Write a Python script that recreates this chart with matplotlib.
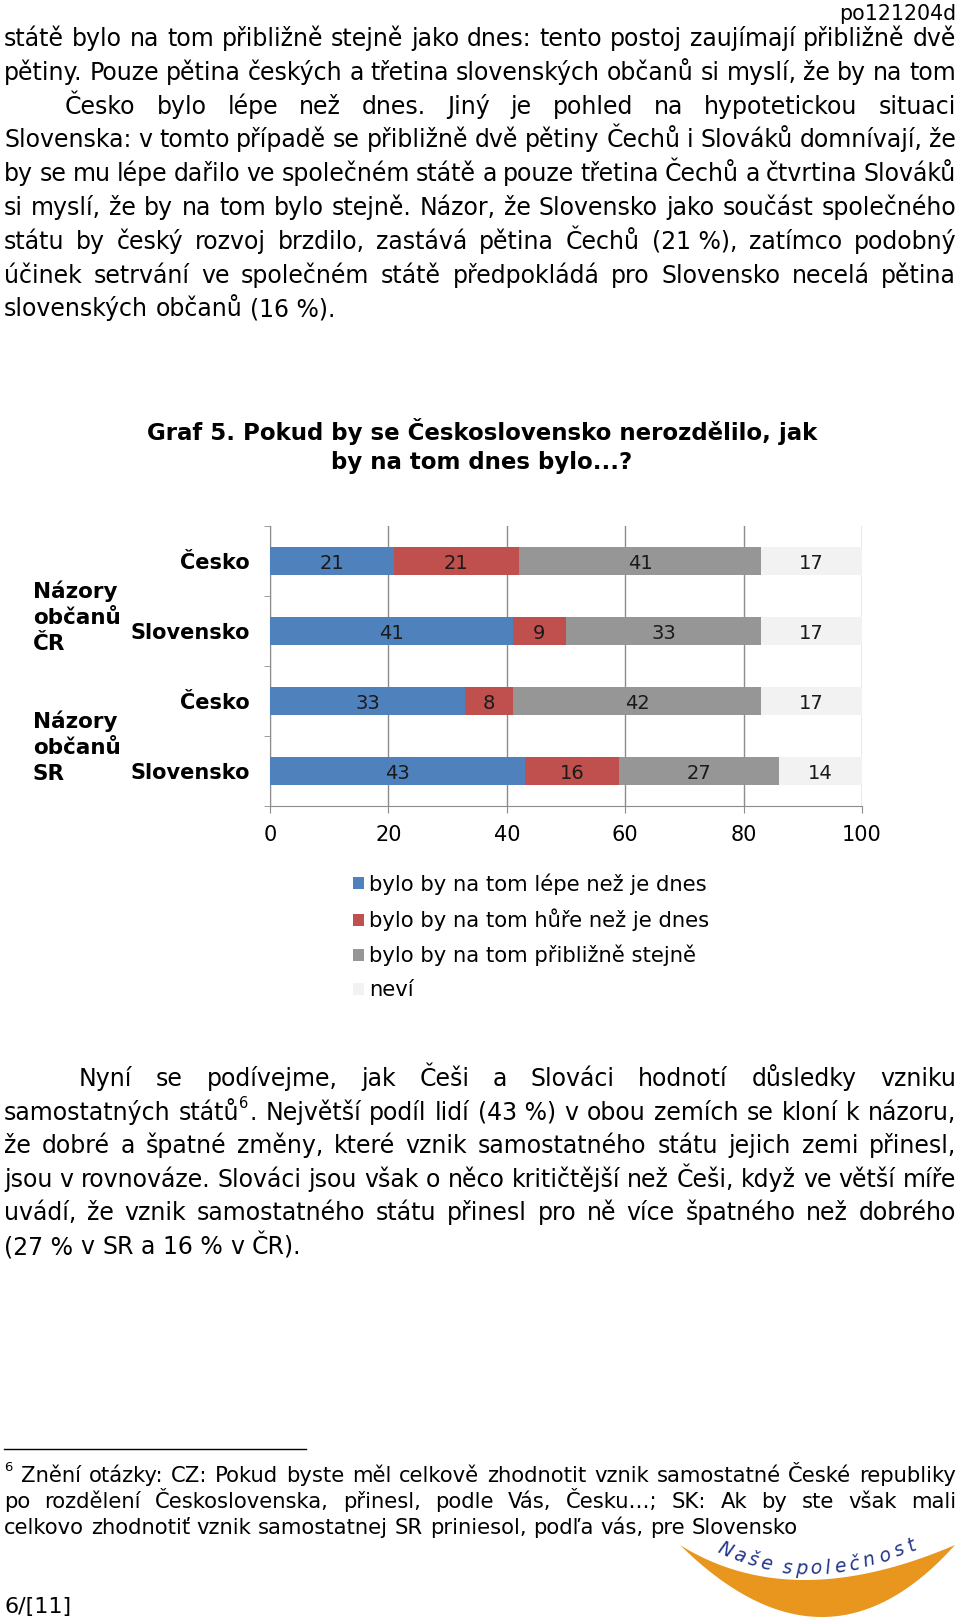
import matplotlib
matplotlib.use('Agg')
import matplotlib.pyplot as plt
from matplotlib.patches import Polygon
import numpy as np

plt.rcParams['font.family'] = ['DejaVu Sans']

W, H, DPI = 960, 1617, 100

# --- chart data ---
rows = ['Česko', 'Slovensko', 'Česko', 'Slovensko']
groups = ['Názory\nobčanů\nČR', 'Názory\nobčanů\nSR']
series = ['bylo by na tom lépe než je dnes',
          'bylo by na tom hůře než je dnes',
          'bylo by na tom přibližně stejně',
          'neví']
lepe = [21, 41, 33, 43]
hure = [21, 9, 8, 16]
stejne = [41, 33, 42, 27]
nevi = [17, 17, 17, 14]
x_ticks = [0, 20, 40, 60, 80, 100]
colors = ['#4F81BD', '#C0504D', '#969696', '#F2F2F2']

title = 'Graf 5. Pokud by se Československo nerozdělilo, jak\nby na tom dnes bylo...?'

# --- page text (justified lines keep the original line breaks, ^ marks a superscript) ---
par1 = [
    'státě bylo na tom přibližně stejně jako dnes: tento postoj zaujímají přibližně dvě',
    'pětiny. Pouze pětina českých a třetina slovenských občanů si myslí, že by na tom',
    'Česko bylo lépe než dnes. Jiný je pohled na hypotetickou situaci',
    'Slovenska: v tomto případě se přibližně dvě pětiny Čechů i Slováků domnívají, že',
    'by se mu lépe dařilo ve společném státě a pouze třetina Čechů a čtvrtina Slováků',
    'si myslí, že by na tom bylo stejně. Názor, že Slovensko jako součást společného',
    'státu by český rozvoj brzdilo, zastává pětina Čechů (21\u00a0%), zatímco podobný',
    'účinek setrvání ve společném státě předpokládá pro Slovensko necelá pětina',
    'slovenských občanů (16\u00a0%).',
]
par2 = [
    'Nyní se podívejme, jak Češi a Slováci hodnotí důsledky vzniku',
    'samostatných států^6^. Největší podíl lidí (43\u00a0%) v obou zemích se kloní k názoru,',
    'že dobré a špatné změny, které vznik samostatného státu jejich zemi přinesl,',
    'jsou v rovnováze. Slováci jsou však o něco kritičtější než Češi, když ve větší míře',
    'uvádí, že vznik samostatného státu přinesl pro ně více špatného než dobrého',
    '(27\u00a0% v SR a 16\u00a0% v ČR).',
]
foot = [
    '^6^ Znění otázky: CZ: Pokud byste měl celkově zhodnotit vznik samostatné České republiky',
    'po rozdělení Československa, přinesl, podle Vás, Česku…; SK: Ak by ste však mali',
    'celkovo zhodnotiť vznik samostatnej SR priniesol, podľa vás, pre Slovensko',
]

fig = plt.figure(figsize=(W / DPI, H / DPI), dpi=DPI)
page = fig.add_axes([0, 0, 1, 1])
page.set_xlim(0, W)
page.set_ylim(H, 0)
page.axis('off')
renderer = fig.canvas.get_renderer()


def text_width(s, **kw):
    t = page.text(0, 0, s, **kw)
    w = t.get_window_extent(renderer).width
    t.remove()
    return w


def word_parts(word, fontsize):
    # split "abc^6^." into pieces (text, size, raise)
    parts = []
    for j, p in enumerate(word.split('^')):
        if p:
            sup = j % 2 == 1
            parts.append((p, fontsize * (0.62 if sup else 1), fontsize * 0.5 if sup else 0))
    return parts


def draw_word(x, y, word, fontsize, draw=True, **kw):
    for p, fs, up in word_parts(word, fontsize):
        w = text_width(p, fontsize=fs, **kw)
        if draw:
            page.text(x, y - up * DPI / 72, p, va='baseline', ha='left', fontsize=fs, **kw)
        x += w + (1 if fs != fontsize else 0)
    return x


def put_line(y, s, x0, x1, fontsize, **kw):
    words = s.split(' ')
    widths = [draw_word(0, 0, w, fontsize, draw=False, **kw) for w in words]
    if x1 is None:
        gap = text_width('a a', fontsize=fontsize, **kw) - text_width('aa', fontsize=fontsize, **kw)
    else:
        gap = max((x1 - x0 - sum(widths)) / (len(words) - 1), 3)
    x = x0
    for w, wd in zip(words, widths):
        draw_word(x, y, w, fontsize, **kw)
        x += wd + gap


page.text(956, 4, 'po121204d', ha='right', va='top', fontsize=14.8)
for i, s in enumerate(par1):
    x0 = 65 if i == 2 else 4
    put_line(46 + i * 33.8, s, x0, None if i == len(par1) - 1 else 956, 17)
for i, s in enumerate(par2):
    x0 = 79 if i == 0 else 4
    put_line(1086 + i * 33.6, s, x0, None if i == len(par2) - 1 else 956, 17)

page.plot([4, 306], [1449, 1449], color='black', lw=1)
for i, s in enumerate(foot):
    put_line(1482 + i * 25.8, s, 4, None if i == len(foot) - 1 else 956, 15.2)
page.text(4, 1613, '6/[11]', ha='left', va='baseline', fontsize=16)

# title and group labels
page.text(482, 446, title, ha='center', va='center', fontsize=16.5,
          fontweight='bold', linespacing=1.38)
page.text(33, 617, groups[0], ha='left', va='center', fontsize=15.5,
          fontweight='bold', linespacing=1.38)
page.text(33, 747, groups[1], ha='left', va='center', fontsize=15.5,
          fontweight='bold', linespacing=1.38)

# logo "Naše společnost"
def qbez(p0, c, p2, n=80):
    t = np.linspace(0, 1, n)[:, None]
    return (1 - t) ** 2 * np.array(p0) + 2 * (1 - t) * t * np.array(c) + t ** 2 * np.array(p2)

upper = qbez((680, 1545), (792, 1615), (955, 1545))
lower = qbez((955, 1545), (826, 1689), (680, 1545))
page.add_patch(Polygon(np.vstack([upper, lower]), closed=True,
                       facecolor='#E8961E', edgecolor='none'))
logo = 'Naše společnost'
logo_kw = dict(fontsize=13.5, style='italic', color='#22358A')
cw = np.array([text_width(ch if ch != ' ' else 'i', **logo_kw) for ch in logo]) + 3
pos = np.cumsum(cw) - cw / 2
pos = (pos - pos[0]) / (pos[-1] - pos[0])
p0, c, p2 = np.array((725, 1550)), np.array((811, 1590)), np.array((912, 1545))
for ch, t in zip(logo, pos):
    pt = (1 - t) ** 2 * p0 + 2 * (1 - t) * t * c + t ** 2 * p2
    d = 2 * (1 - t) * (c - p0) + 2 * t * (p2 - c)
    ang = -np.degrees(np.arctan2(d[1], d[0]))
    page.text(pt[0], pt[1], ch, ha='center', va='center', rotation=ang, **logo_kw)

# --- chart ---
ax = fig.add_axes([270 / W, 1 - 806 / H, 592 / W, 280 / H])
y = np.arange(len(rows))
left = np.zeros(len(rows))
for vals, name, col in zip([lepe, hure, stejne, nevi], series, colors):
    bars = ax.barh(y, vals, left=left, height=0.39, color=col, label=name, zorder=3)
    anns = ax.bar_label(bars, labels=[str(v) for v in vals], label_type='center',
                        fontsize=14, color='#1a1a1a')
    for a in anns:
        a.xyann = (0, -1.5)
    left += np.array(vals)

ax.set_xlim(0, 100)
ax.set_ylim(3.5, -0.5)
ax.set_xticks(x_ticks)
ax.set_yticks(y, rows, fontweight='bold', fontsize=15)
ax.set_yticks(np.arange(-0.5, len(rows)), minor=True)
ax.xaxis.grid(True, color='#8C8C8C', lw=1)
ax.set_axisbelow(True)
for s in ['top', 'right']:
    ax.spines[s].set_visible(False)
for s in ['left', 'bottom']:
    ax.spines[s].set_color('#8C8C8C')
ax.tick_params(axis='x', length=5, color='#8C8C8C', labelsize=15, pad=8.5)
ax.tick_params(axis='y', which='major', length=0, pad=14.5)
ax.tick_params(axis='y', which='minor', length=4.5, color='#8C8C8C')

fig.legend(loc='upper left', bbox_to_anchor=(353 / W, 1 - 873 / H), frameon=False,
           fontsize=15.2, handlelength=0.5, handleheight=0.5, handletextpad=0.25,
           labelspacing=0.66, borderpad=0, borderaxespad=0)

fig.savefig('out.png', dpi=DPI)
